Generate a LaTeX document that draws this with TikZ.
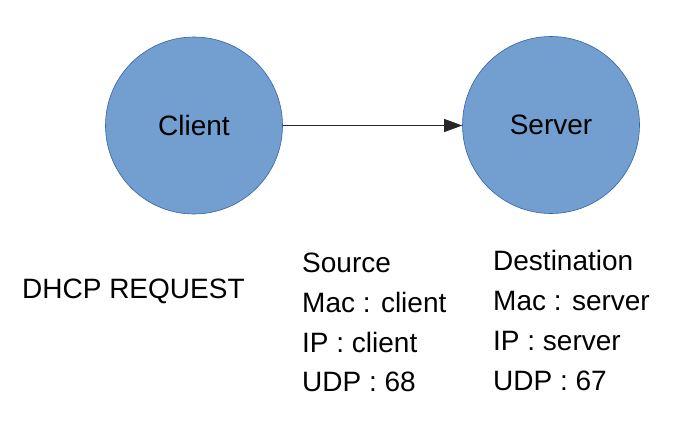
\documentclass[tikz,border=0pt]{standalone}
\usepackage{fontspec}
\setmainfont{Liberation Sans}
\usetikzlibrary{arrows.meta}
\definecolor{circfill}{HTML}{729FCF}
\definecolor{circline}{HTML}{3465A4}
\begin{document}
\begin{tikzpicture}[x=1pt,y=1pt,
  host/.style={circle, fill=circfill, draw=circline, line width=0.6pt, minimum size=177pt, inner sep=0pt, font=\fontsize{28}{34}\selectfont},
  lbl/.style={anchor=base west, inner sep=0pt, font=\fontsize{28}{34}\selectfont},
  link/.style={draw=black!85, line width=0.8pt, -{Triangle[length=18pt,width=13pt]}}]
\useasboundingbox (0,0) rectangle (695,-444);
\node[host] (client) at (194,-125.5) {Client};
\node[host] (server) at (551,-125) {Server};
\draw[link] (client.east) -- (server.west |- client.east);
\node[lbl] (dhcp) at (22,-298) {DHCP REQUEST};
\node[lbl] (src) at (302,-272) {Source};
\node[lbl] (srcmac) at (302,-312) {Mac : client};
\node[lbl] (srcip) at (302,-352) {IP : client};
\node[lbl] (srcudp) at (302,-391) {UDP : 68};
\node[lbl] (dst) at (493,-270) {Destination};
\node[lbl] (dstmac) at (493,-310) {Mac : server};
\node[lbl] (dstip) at (493,-350) {IP : server};
\node[lbl] (dstudp) at (493,-390) {UDP : 67};
\end{tikzpicture}
\end{document}
